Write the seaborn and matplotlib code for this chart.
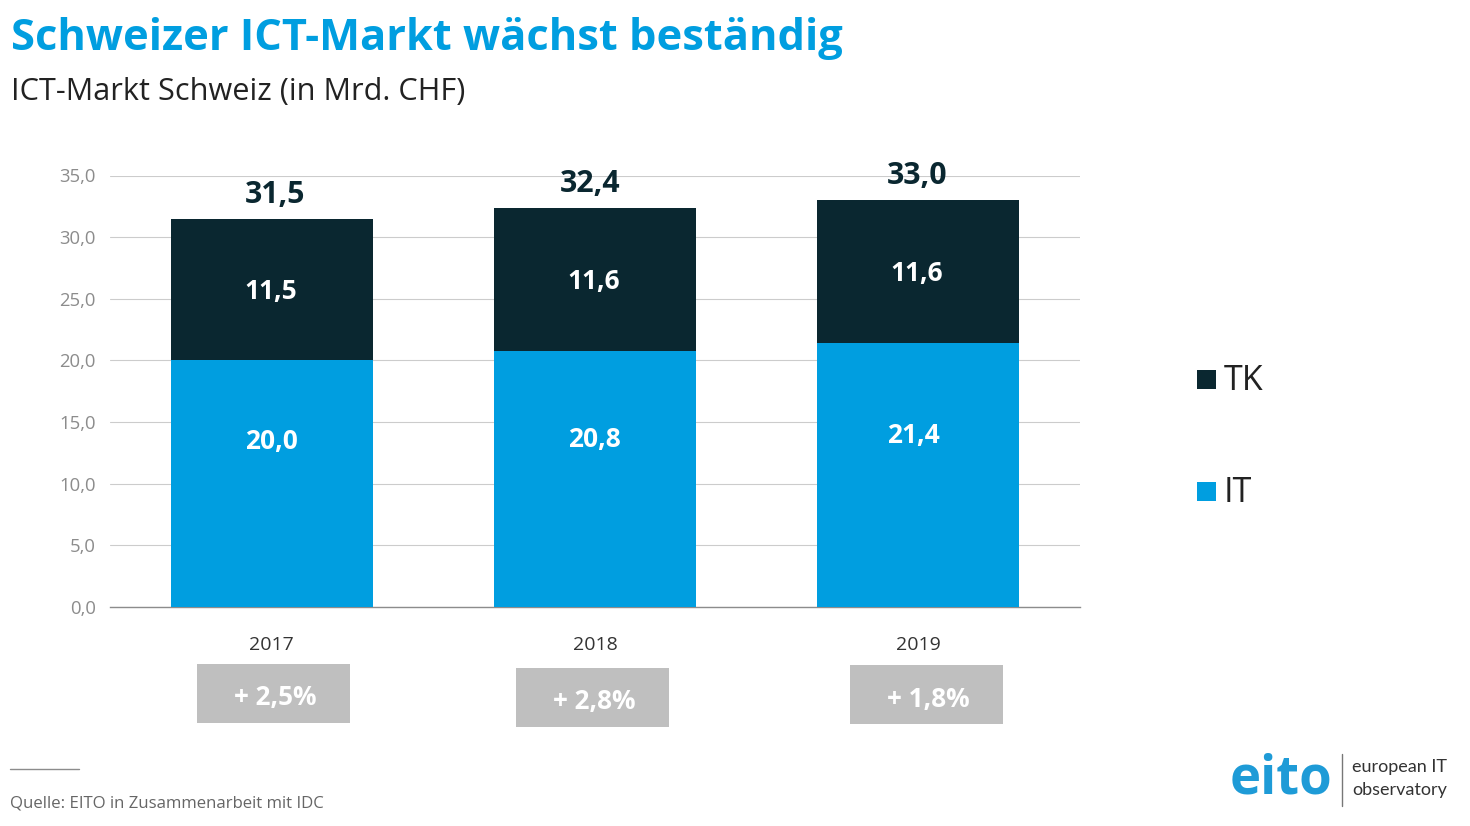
import matplotlib
matplotlib.use("Agg")
import matplotlib.pyplot as plt
from matplotlib.patches import Rectangle
from matplotlib.lines import Line2D
import seaborn as sns

# values
years = ["2017", "2018", "2019"]
it_values = [20.0, 20.8, 21.4]
tk_values = [11.5, 11.6, 11.6]
totals = [31.5, 32.4, 33.0]
growth = ["+ 2,5%", "+ 2,8%", "+ 1,8%"]
y_ticks = [0, 5, 10, 15, 20, 25, 30, 35]

BLUE = "#009EE0"
DARK = "#0A2730"
W, H = 1470, 826

sns.set_theme(style="white")
plt.rcParams["font.family"] = ["Open Sans", "DejaVu Sans"]

fig = plt.figure(figsize=(W / 100, H / 100), dpi=100, facecolor="white")
# axes placed in pixels: x 110-1080, y 175.5-607
ax = fig.add_axes([110 / W, 1 - 607 / H, 970 / W, 431.5 / H])


def fx(px):
    return px / W


def fy(py):
    return 1 - py / H


def comma(v):
    return f"{v:.1f}".replace(".", ",")


sns.barplot(x=years, y=it_values, color=BLUE, width=0.625, saturation=1, linewidth=0, ax=ax, zorder=3)
sns.barplot(x=years, y=tk_values, bottom=it_values, color=DARK, width=0.625, saturation=1, linewidth=0, ax=ax, zorder=3)

ax.set_xlim(-0.5, 2.5)
ax.set_ylim(0, 35)
ax.set_yticks(y_ticks)
ax.set_yticklabels([f"{v},0" for v in y_ticks], fontsize=13.3, color="#8C8C8C")
ax.tick_params(axis="y", length=0, pad=10)
ax.tick_params(axis="x", length=0, pad=21, labelsize=14, labelcolor="#333333")
ax.grid(axis="y", color="#CCCCCC", linewidth=0.8, zorder=0)
ax.set_xlabel("")
ax.set_ylabel("")
for name in ["top", "left", "right"]:
    ax.spines[name].set_visible(False)
ax.spines["bottom"].set_color("#8C8C8C")
ax.spines["bottom"].set_linewidth(1)

# value labels, the original has them slightly off-centre so they sit at pixel spots
it_spots = [(271, 442), (594, 439), (913, 436)]
tk_spots = [(271, 292), (594, 282), (917, 274)]
total_spots = [(275, 195), (590, 184), (917, 176)]
for i in range(3):
    fig.text(fx(it_spots[i][0]), fy(it_spots[i][1]), comma(it_values[i]), color="white",
             fontsize=19, fontweight="bold", ha="center", va="center", zorder=5)
    fig.text(fx(tk_spots[i][0]), fy(tk_spots[i][1]), comma(tk_values[i]), color="white",
             fontsize=19, fontweight="bold", ha="center", va="center", zorder=5)
    fig.text(fx(total_spots[i][0]), fy(total_spots[i][1]), comma(totals[i]), color=DARK,
             fontsize=21.8, fontweight="bold", ha="center", va="center", zorder=5)

# growth boxes under the bars
box_left = [197, 516, 850]
box_top = [664, 668, 665]
for left, top, label in zip(box_left, box_top, growth):
    fig.add_artist(Rectangle((fx(left), fy(top + 59)), 153 / W, 59 / H, transform=fig.transFigure,
                             facecolor="#BFBFBF", edgecolor="none"))
    fig.text(fx(left + 78), fy(top + 34), label, color="white", fontsize=18.8, fontweight="bold",
             ha="center", va="center")

# titles
fig.text(fx(11), fy(38), "Schweizer ICT-Markt wächst beständig", color=BLUE, fontsize=31.2,
         fontweight="bold", ha="left", va="center")
fig.text(fx(11), fy(92), "ICT-Markt Schweiz (in Mrd. CHF)", color="#222222", fontsize=22.1,
         ha="left", va="center")

# legend
for top, color, label in [(370, DARK, "TK"), (482, BLUE, "IT")]:
    fig.add_artist(Rectangle((fx(1197), fy(top + 19)), 19 / W, 19 / H, transform=fig.transFigure,
                             facecolor=color, edgecolor="none"))
    fig.text(fx(1224), fy(top + 11), label, color="#222222", fontsize=24.5, ha="left", va="center")

# source
fig.add_artist(Line2D([fx(10), fx(79)], [fy(769), fy(769)], color="#8C8C8C", linewidth=1))
fig.text(fx(10), fy(804), "Quelle: EITO in Zusammenarbeit mit IDC", color="#666666", fontsize=12.1,
         ha="left", va="center")

# logo
fig.text(fx(1230), fy(779), "eito", color="#1E9BD7", fontsize=38, fontweight="bold", ha="left", va="center")
fig.add_artist(Line2D([fx(1342), fx(1342)], [fy(754), fy(806)], color="#777777", linewidth=1))
fig.text(fx(1352), fy(767), "european IT", color="#333333", fontsize=13, family=["Lato", "DejaVu Sans"],
         ha="left", va="center")
fig.text(fx(1352), fy(790), "observatory", color="#333333", fontsize=13, family=["Lato", "DejaVu Sans"],
         ha="left", va="center")

fig.savefig("out.png", dpi=100)
